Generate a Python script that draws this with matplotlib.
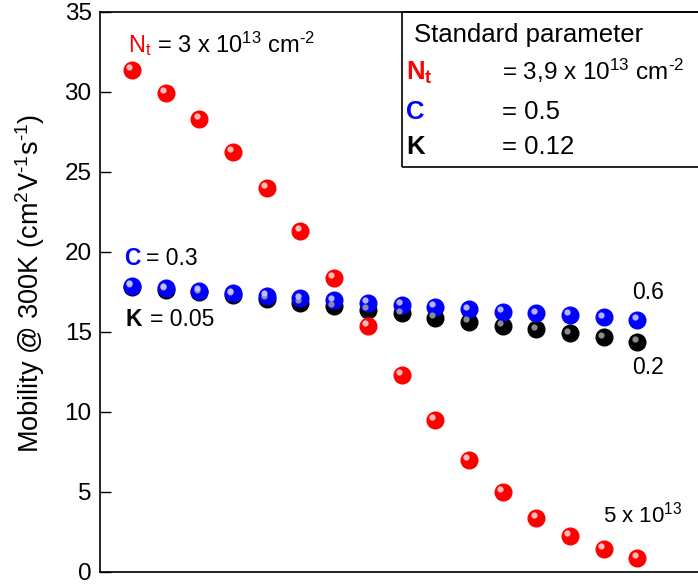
import numpy as np
import matplotlib
matplotlib.use('Agg')
import matplotlib.pyplot as plt
from matplotlib.patches import Rectangle
from matplotlib.transforms import offset_copy

plt.rcParams['font.family'] = ['Liberation Sans', 'DejaVu Sans']
plt.rcParams['mathtext.fontset'] = 'custom'
plt.rcParams['mathtext.rm'] = 'Liberation Sans'
plt.rcParams['mathtext.it'] = 'Liberation Sans:italic'
plt.rcParams['mathtext.bf'] = 'Liberation Sans:bold'

# data
step = np.arange(16)
mob_nt = [31.4, 29.95, 28.3, 26.25, 24.0, 21.3, 18.4, 15.4, 12.3, 9.5, 7.0, 5.0, 3.4, 2.25, 1.45, 0.9]
mob_c = [17.9, 17.72, 17.56, 17.42, 17.25, 17.1, 16.98, 16.84, 16.69, 16.57, 16.42, 16.27, 16.17, 16.06, 15.92, 15.77]
mob_k = [17.82, 17.64, 17.48, 17.32, 17.08, 16.82, 16.6, 16.4, 16.17, 15.9, 15.65, 15.4, 15.17, 14.92, 14.67, 14.36]

fig = plt.figure(figsize=(6.98, 5.86), dpi=100)
ax = fig.add_axes([100 / 698, 14 / 586, 598 / 698, 560 / 586])


def spheres(x, y, color, light):
    ax.plot(x, y, 'o', color=color, ms=12, mec=color, zorder=3)
    hl = offset_copy(ax.transData, fig=fig, x=-2.0, y=2.0, units='points')
    ax.plot(x, y, 'o', color=light, ms=4.5, mew=0, alpha=0.9, transform=hl, zorder=4)


spheres(step, mob_k, 'black', '#9a9a9a')
spheres(step, mob_c, '#0000ff', '#c8c8ff')
spheres(step, mob_nt, '#ff0000', '#ffd0d0')

ax.set_xlim(-0.95, 16.8)
ax.set_ylim(0, 35)
ax.set_yticks(np.arange(0, 36, 5))
ax.set_xticks([])
ax.tick_params(axis='y', direction='in', length=8, width=1, labelsize=17.5, pad=6)
ax.spines['right'].set_visible(False)
for s in ['left', 'bottom', 'top']:
    ax.spines[s].set_linewidth(1.2)
ax.set_ylabel(r'Mobility @ 300K (cm$^{2}$V$^{\text{-}1}$s$^{\text{-}1}$)', fontsize=19.5)
ax.yaxis.set_label_coords(-0.088, 0.515)

# annotations next to the series
ax.text(-0.12, 32.9, r'N$_\mathrm{t}$', color='red', fontsize=17, va='center')
ax.text(0.74, 32.9, r'= 3 x 10$^{13}$ cm$^{\text{-}2}$', fontsize=17, va='center')
ax.text(-0.24, 19.6, 'C', color='#0000ff', fontsize=16.5, fontweight='bold', va='center')
ax.text(0.42, 19.6, '= 0.3', fontsize=16.5, va='center')
ax.text(-0.18, 15.75, 'K', fontsize=16.5, fontweight='bold', va='center')
ax.text(0.53, 15.75, '= 0.05', fontsize=16.5, va='center')
ax.text(14.85, 17.45, '0.6', fontsize=16.5, va='center')
ax.text(14.85, 12.75, '0.2', fontsize=16.5, va='center')
ax.text(13.99, 3.6, r'5 x 10$^{13}$', fontsize=16, va='center')

# standard parameter box
ax.add_patch(Rectangle((0.505, 0.723), 0.6, 0.277, transform=ax.transAxes,
                       fill=False, lw=1.2, ec='black', clip_on=False, zorder=5))
ax.text(8.38, 33.55, 'Standard parameter', fontsize=18.5, va='center')
ax.text(8.14, 31.2, r'$\mathbf{N_t}$', color='red', fontsize=18.5, va='center')
ax.text(10.99, 31.3, r'= 3,9 x 10$^{13}$ cm$^{\text{-}2}$', fontsize=17.5, va='center')
ax.text(8.14, 28.75, 'C', color='#0000ff', fontsize=18.5, fontweight='bold', va='center')
ax.text(10.99, 28.75, '= 0.5', fontsize=18.5, va='center')
ax.text(8.14, 26.55, 'K', fontsize=18.5, fontweight='bold', va='center')
ax.text(10.99, 26.55, '= 0.12', fontsize=18.5, va='center')

fig.savefig('out.png', dpi=100)
